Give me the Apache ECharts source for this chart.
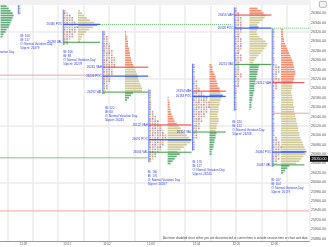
<!DOCTYPE html>
<html><head><meta charset="utf-8">
<script src="https://cdn.jsdelivr.net/npm/echarts@6.0.0/dist/echarts.min.js"></script>
<style>html,body{margin:0;padding:0;background:#fff;overflow:hidden;width:329px;height:247px;position:relative}
#chart{position:absolute;left:-18px;top:0;width:347px;height:247px}</style>
</head><body><div id="chart"></div>
<script>
// ---------------- data ----------------
const ROW = 5; // price step of one profile row
const yTickValues = [25880,25900,25920,25940,25960,25980,26000,26020,26040,26060,26080,26100,26120,26140,26160,26180,26200,26220,26240,26260,26280,26300,26320,26340,26360];
const gridPrices = [26000,26120,26220,26320];
const timeLabels = ['11:28','12:01','12:02','12:03','12:04','12:05','12:06'];
const timeLabelValues = [16.3,33.5,49.2,66.5,84.5,100.2,115.1];
const lastPrice = 26050;
const noteText = 'Bar timer disabled since either you are disconnected or current time is outside session time or chart and data';

// profile A (left edge, partly out of view)
const aHistVol = [3,5,6,8,10,12,13,12,11,10,9,8,6,5,3,2];
// profile B
const bTpo = [2,2,1,1,1,1];
// profile C
const cTpo = [1,2,3,4,4,5,5,6,5,5,4,4,3,2,2];
const cHistVol = [2,4,6,9,12,16,19,15,11,8,6,4,3,2];
// profile D
const dTpo = [1,1,2,2,2,3,3,3,4,4,4,5,5,5,5,5,4,4,4,3,3,3,2,2,2,1,1];
const dHistVol = [1,1,2,2,3,3,3,4,4,5,5,6,6,7,8,9,10,11,12,13,13,14,15,16,17,17,8,6,4,2];
// profile E
const eTpo = [1,1,1,1,1,1,1,1,1,2,2,3,3,4,4,5,5,6,6,7,7,7,6,6,5,5,4,3,3,2,1];
const eHistVol = [1,1,2,2,2,3,3,4,5,6,7,9,11,13,15,17,19,21,23,22,19,16,13,10,12,9,7,5,3];
// profile F
const fTpo = [1,1,1,1,1,1,1,2,2,2,3,3,4,5,6,6,7,7,7,6,6,5,5,4,4,3,3,3,2,2,2,2,1,1,1,1,1];
const fHistVol = [2,3,3,4,5,6,6,7,8,8,10,10,11,13,12,11,10,10,9,9,9,8,8,9,9,8,7,7,6,7,6,6,5,5,4,4,3,2,2];
// profile G
const gTpo = [1,1,2,2,3,3,3,3,3,3,3,2,2,3,3,3,3,3,2,2,3,3,3,2,2,2,2,2,3,3,2,2,2,2,1,1,1,1,1,1,1,1,1,1];
const gHistVol = [8,12,14,16,15,13,10,8,9,8,7,8,10,13,16,18,17,15,13,11,9,7,5,4,10,9,9,8,8,7,7,6,6,5,5,5,4,4,3,3,2,2,2,1];
// profile H
const hTpo = [1,1,1,1,1,1,1,1,1,1,1,1,1,1,1,2,3,3,3,2,2,3,3,2,2,2,1,1,1,1,1,1,1,1,1,1,1,1,1,1,1,1,1,1,1,1,2,2,3,3,4,4,4,3,3,3,2,2,1];
const hHistVol = [2,2,2,2,3,3,4,5,6,7,8,9,10,11,12,12,13,13,14,14,13,13,12,11,11,11,10,10,11,11,12,12,12,13,13,13,14,14,15,15,16,16,17,17,18,18,19,20,21,22,23,24,25,24,22,20,18,15,8,6,4,2];

const profiles = [
  {tpoX:null, tpoTop:null, tpo:[], histX:7.3, histTop:26385, hist:aHistVol, vah:26400, poc:null, val:26400, lineEnd:null,
   text:['O: Normal Variation Day'], textX:0, textP:26277},
  {tpoX:14.3, tpoTop:26385, tpo:bTpo, hist:null, vah:null, poc:null, val:null,
   text:['IB: 106','IB: 117','O: Normal Variation Day','50pcnt: 26379'], textX:15.1, textP:26311},
  {tpoX:32, tpoTop:26365, tpo:cTpo, histX:37.8, histTop:26365, hist:cHistVol, vah:null, poc:26336, val:26298, lineEnd:46.5,
   text:['IB: 106','IB: 88','O: Normal Variation Day','50pcnt: 26279'], textX:32, textP:26277},
  {tpoX:47.6, tpoTop:26320, tpo:dTpo, histX:56.3, histTop:26320, hist:dHistVol, vah:26245, poc:26226, val:26192, lineEnd:65.5,
   text:['IB: 120','IB: 84','O: Normal Variation Day','50pcnt: 26245'], textX:48.4, textP:26158},
  {tpoX:65.7, tpoTop:26195, tpo:eTpo, histX:73.1, histTop:26180, hist:eHistVol, vah:26122, poc:26091, val:26064, lineEnd:82.5,
   text:['IB: 160','IB: 176','O: Normal Variation Day','50pcnt: 26267'], textX:65.3, textP:26022},
  {tpoX:82.9, tpoTop:26250, tpo:fTpo, histX:89.6, histTop:26250, hist:fHistVol, vah:26194, poc:26183, val:26107, lineEnd:96,
   text:['IB: 176','IB: 117','O: Normal Variation Day','50pcnt: 26240'], textX:82.9, textP:26043},
  {tpoX:99.4, tpoTop:26370, tpo:gTpo, histX:105.3, histTop:26370, hist:gHistVol, vah:26356, poc:26328, val:26251, lineEnd:114,
   text:['IB: 220','IB: 122','O: Normal Variation Day','50pcnt: 26238'], textX:98.6, textP:26128},
  {tpoX:114.3, tpoTop:26325, tpo:hTpo, histX:117.8, histTop:26325, hist:hHistVol, vah:26212, poc:26064, val:26037, lineEnd:127,
   text:['IB: 207','IB: 164','O: Normal Variation Day','50pcnt: 26179'], textX:113.9, textP:26005}
];

// extra horizontal levels
const levelFrom = [46.5, 114.3, 0, 0, 0, 114.3];
const levelTo   = [98.6, 129, 46.5, 65.3, 129, 129];
const levelPrice= [26336, 26328, 26228, 26052, 25939, 26147];
const levelKind = ['naked','naked','pink','green','pink','pink'];

// ---------------- styles ----------------
const HIST_COLORS = ['#f68d6e','#d0ca9a','#64ae7b','#5a86ee'];
const TPO_COLORS = ['#f08fb8','#8391f3','#f3b37a','#7cc88a','#e0d275','#be8ee8','#f39191'];
const LINE_COLORS = {vah:'#ee3b3b', poc:'#3f5fef', val:'#3b9a45', naked:'#6cc46c', pink:'#f5a3a3', green:'#7cc47c'};
const LABEL_BLUE = '#3442ea';
const VOL_K = 0.4;

// ---------------- build tables ----------------
const histData = [], tpoData = [], vlineData = [], lineData = [], lineKinds = [], labelData = [], labelTexts = [], textData = [], textBlocks = [];
profiles.forEach(pr => {
  if (pr.hist) pr.hist.forEach((v, i) => {
    const p = pr.histTop - i * ROW;
    const vah = pr.vah == null ? Infinity : pr.vah;
    let k = p > vah ? 0 : (p < pr.val ? 2 : 1);
    if (pr.poc != null && Math.abs(p - pr.poc) <= ROW / 2) k = 3;
    histData.push([pr.histX, p, v, k]);
  });
  if (pr.tpo.length) {
    pr.tpo.forEach((n, i) => tpoData.push([pr.tpoX, pr.tpoTop - i * ROW, n, i]));
    vlineData.push([pr.tpoX, pr.tpoTop + ROW / 2, pr.tpoTop - (pr.tpo.length - 0.5) * ROW]);
  }
  if (pr.lineEnd != null) {
    [['vah', pr.vah], ['poc', pr.poc], ['val', pr.val]].forEach(([k, v]) => {
      if (v == null) return;
      lineData.push([pr.tpoX, pr.lineEnd, v]); lineKinds.push(k);
      labelData.push([pr.tpoX, v]); labelTexts.push(v + ' ' + k.toUpperCase());
    });
  }
  textData.push([pr.textX, pr.textP]); textBlocks.push(pr.text);
});
levelPrice.forEach((p, i) => { lineData.push([levelFrom[i], levelTo[i], p]); lineKinds.push(levelKind[i]); });

const chart = echarts.init(document.getElementById('chart'), null, {renderer: 'canvas'});
const FONT = 'Liberation Sans, Arial, sans-serif';

chart.setOption({
  animation: false,
  backgroundColor: '#ffffff',
  grid: {left: 0, right: 18, top: 0, bottom: 6, containLabel: false},
  graphic: [
    {type: 'rect', left: 18, top: 0, shape: {width: 311, height: 5}, style: {fill: '#f1f1f3'}, z: 100},
    {type: 'rect', left: 337, top: 1, shape: {width: 7, height: 6, r: 1}, style: {fill: '#f4f4f4', stroke: '#9a9a9a', lineWidth: 0.7}, z: 100}
  ],
  xAxis: [{
    type: 'value', min: 0, max: 129, interval: 10,
    axisLine: {show: true, lineStyle: {color: '#9a9a9a', width: 1}},
    axisTick: {show: false},
    axisLabel: {customValues: timeLabelValues, formatter: v => timeLabels[timeLabelValues.indexOf(v)] || '', fontSize: 3, color: '#555', margin: 1.5, fontFamily: FONT},
    splitLine: {show: true, lineStyle: {color: '#ebebeb', width: 1.5}}
  }],
  yAxis: [{
    type: 'value', position: 'right', min: 25875, max: 26388,
    axisLine: {show: true, lineStyle: {color: '#888', width: 1}},
    axisTick: {show: true, customValues: yTickValues, length: 1.5, lineStyle: {color: '#888'}},
    axisLabel: {customValues: yTickValues, formatter: v => v.toFixed(2), fontSize: 3.6, color: '#555', margin: 1.5, fontFamily: FONT},
    splitLine: {show: false}
  }, {
    type: 'value', position: 'right', min: 25875, max: 26388,
    axisLine: {show: false}, axisLabel: {show: false},
    axisTick: {show: false, customValues: gridPrices},
    splitLine: {show: true, lineStyle: {color: '#ebebeb', width: 1.5}}
  }],
  series: [
    { // volume histograms
      type: 'custom', silent: true, clip: true, data: histData,
      renderItem(params, api) {
        const a = api.coord([api.value(0), api.value(1)]);
        const b = api.coord([api.value(0) + api.value(2) * VOL_K, api.value(1)]);
        const h = api.size([0, ROW])[1];
        return {type: 'rect', shape: {x: a[0], y: a[1] - h * 0.36, width: b[0] - a[0], height: h * 0.72}, style: {fill: HIST_COLORS[api.value(3)]}};
      }
    },
    { // TPO letters
      type: 'custom', silent: true, clip: true, data: tpoData,
      renderItem(params, api) {
        const n = api.value(2), row = api.value(3);
        const h = api.size([0, ROW])[1];
        const w = api.size([0.65, 0])[0];
        const kids = [];
        for (let j = 0; j < n; j++) {
          const c = api.coord([api.value(0) + j + 0.2, api.value(1)]);
          kids.push({type: 'rect', shape: {x: c[0], y: c[1] - h * 0.36, width: w, height: h * 0.72},
            style: {fill: TPO_COLORS[(j * 3 + row) % TPO_COLORS.length]}});
        }
        return {type: 'group', children: kids};
      }
    },
    { // TPO column spine
      type: 'custom', silent: true, clip: true, data: vlineData,
      renderItem(params, api) {
        const a = api.coord([api.value(0), api.value(1)]);
        const b = api.coord([api.value(0), api.value(2)]);
        return {type: 'line', shape: {x1: a[0], y1: a[1], x2: b[0], y2: b[1]}, style: {stroke: '#3f5fef', lineWidth: 0.8}};
      }
    },
    { // horizontal value-area / level lines
      type: 'custom', silent: true, clip: true, data: lineData,
      renderItem(params, api) {
        const kind = lineKinds[params.dataIndex];
        const a = api.coord([api.value(0), api.value(2)]);
        const b = api.coord([api.value(1), api.value(2)]);
        const dashed = kind === 'naked';
        const w = kind === 'poc' ? 1.3 : 1;
        return {type: 'line', shape: {x1: a[0], y1: a[1], x2: b[0], y2: b[1]},
          style: {stroke: LINE_COLORS[kind], lineWidth: w, lineDash: dashed ? [1, 1] : null}};
      }
    },
    { // VAH / POC / VAL labels
      type: 'custom', silent: true, clip: false, data: labelData,
      renderItem(params, api) {
        const c = api.coord([api.value(0), api.value(1)]);
        return {type: 'text', x: c[0] - 1, y: c[1],
          style: {text: labelTexts[params.dataIndex], fill: LABEL_BLUE, fontSize: 3, fontFamily: FONT, align: 'right', verticalAlign: 'middle'}};
      }
    },
    { // session statistics text
      type: 'custom', silent: true, clip: false, data: textData,
      renderItem(params, api) {
        const c = api.coord([api.value(0), api.value(1)]);
        return {type: 'text', x: c[0], y: c[1] - 2,
          style: {text: textBlocks[params.dataIndex].join('\n'), fill: LABEL_BLUE, fontSize: 3, lineHeight: 4, fontFamily: FONT, align: 'left', verticalAlign: 'top'}};
      }
    },
    { // last price tag + note
      type: 'custom', silent: true, clip: false, data: [[129, lastPrice]],
      renderItem(params, api) {
        const c = api.coord([api.value(0), api.value(1)]);
        const base = api.coord([api.value(0), 25875]);
        return {type: 'group', children: [
          {type: 'rect', shape: {x: c[0] + 0.5, y: c[1] - 3, width: 18, height: 6}, style: {fill: '#131313'}},
          {type: 'text', x: c[0] + 2, y: c[1], style: {text: lastPrice.toFixed(2), fill: '#fff', fontSize: 3.6, fontFamily: FONT, verticalAlign: 'middle'}},
          {type: 'text', x: c[0] - 2, y: base[1] - 2.5, style: {text: noteText, fill: '#444', fontSize: 3, fontFamily: FONT, align: 'right', verticalAlign: 'middle'}}
        ]};
      }
    }
  ]
});
</script>
</body></html>
